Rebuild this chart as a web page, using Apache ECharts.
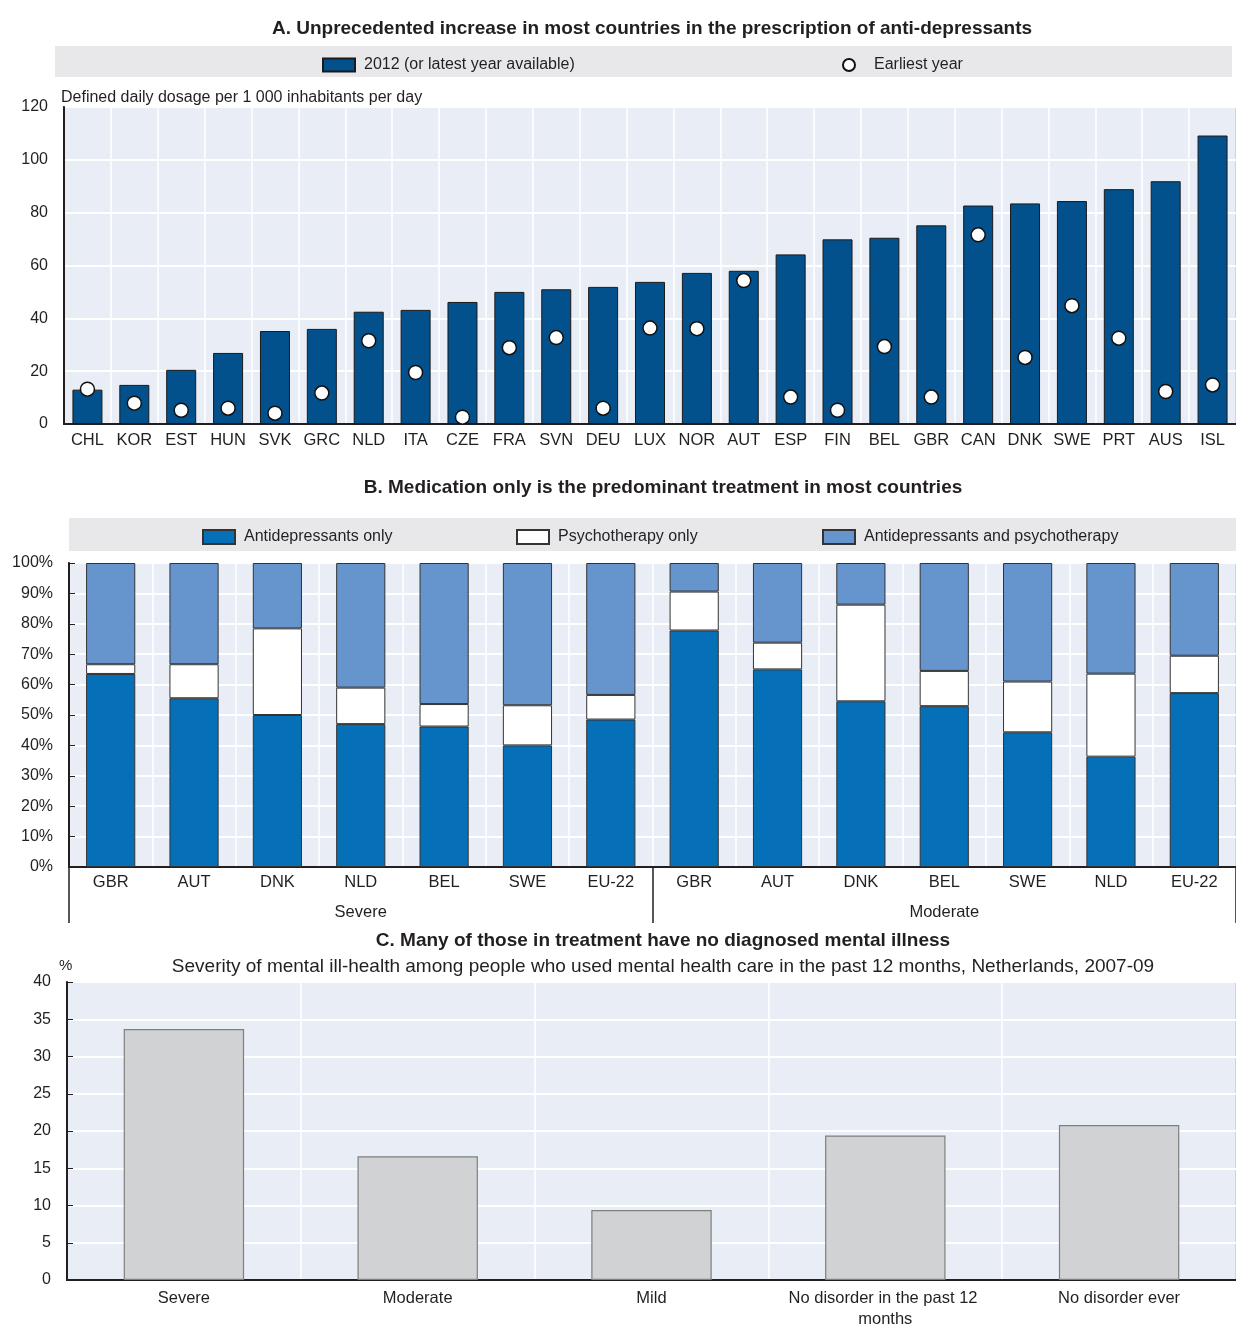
<!DOCTYPE html>
<html>
<head>
<meta charset="utf-8">
<script src="https://cdn.jsdelivr.net/npm/echarts@6/dist/echarts.min.js"></script>
<style>
  html, body { margin: 0; padding: 0; background: #fff; }
  #c { width: 1236px; height: 1330px; }
</style>
</head>
<body>
<div id="c"></div>
<script>
// Panel A: anti-depressant consumption
var countriesA = ['CHL','KOR','EST','HUN','SVK','GRC','NLD','ITA','CZE','FRA','SVN','DEU','LUX','NOR','AUT','ESP','FIN','BEL','GBR','CAN','DNK','SWE','PRT','AUS','ISL'];
var latestA = [13.0, 14.8, 20.5, 26.9, 35.2, 36.0, 42.5, 43.2, 46.2, 50.0, 51.0, 51.9, 53.8, 57.2, 58.0, 64.2, 69.9, 70.5, 75.2, 82.7, 83.5, 84.4, 88.9, 91.9, 109.2];
var earliestA = [13.2, 7.9, 5.2, 6.0, 4.1, 11.7, 31.5, 19.5, 2.6, 28.9, 32.7, 6.0, 36.3, 36.1, 54.3, 10.2, 5.2, 29.3, 10.2, 71.6, 25.2, 44.8, 32.5, 12.3, 14.8];

// Panel B: treatment type by severity
var countriesB = ['GBR','AUT','DNK','NLD','BEL','SWE','EU-22','GBR','AUT','DNK','BEL','SWE','NLD','EU-22'];
var groupsB = ['Severe', 'Moderate'];
var antidepOnly = [63.5, 55.5, 50.0, 47.0, 46.2, 40.0, 48.5, 77.8, 65.0, 54.5, 52.9, 44.3, 36.3, 57.2];
var psychOnly = [3.2, 11.2, 28.5, 12.0, 7.4, 13.2, 8.1, 12.8, 8.8, 31.8, 11.6, 16.7, 27.3, 12.3];
var bothTreat = [33.3, 33.3, 21.5, 41.0, 46.4, 46.8, 43.4, 9.4, 26.2, 13.7, 35.5, 39.0, 36.4, 30.5];

// Panel C: severity among care users, Netherlands
var severityC = ['Severe', 'Moderate', 'Mild', 'No disorder in the past 12 months', 'No disorder ever'];
var shareC = [33.7, 16.6, 9.4, 19.4, 20.8];

var FONT = '"Liberation Sans Narrow", "Arial Narrow", "Liberation Sans", sans-serif';
var TXT = '#231f20';
var PLOT_BG = '#e9edf6';

var chart = echarts.init(document.getElementById('c'));

function plotGrid(left, top, width, height) {
    return {
        left: left, top: top, width: width, height: height,
        show: true, backgroundColor: PLOT_BG,
        borderColor: '#231f20', borderWidth: 1.5
    };
}
function catAxis(grid, data, margin) {
    return {
        type: 'category', gridIndex: grid, data: data,
        axisLine: { lineStyle: { color: '#231f20', width: 2 } },
        axisTick: { show: false },
        axisLabel: { color: TXT, fontFamily: FONT, fontSize: 16.5, margin: margin, interval: 0 },
        splitLine: { show: true, interval: 0, lineStyle: { color: '#ffffff', width: 1.5 } }
    };
}
function valAxis(grid, max, step, fmt, ticks) {
    return {
        type: 'value', gridIndex: grid, min: 0, max: max, interval: step,
        axisLine: { show: true, lineStyle: { color: '#231f20', width: 2 } },
        axisTick: { show: ticks, inside: true, length: 6, lineStyle: { color: '#231f20' } },
        axisLabel: { color: TXT, fontFamily: FONT, fontSize: 16, margin: 16, formatter: fmt },
        splitLine: { show: true, lineStyle: { color: '#ffffff', width: 2 } }
    };
}
function legendText() {
    return { color: TXT, fontFamily: FONT, fontSize: 16, padding: [0, 0, 0, 4] };
}

var option = {
    animation: false,
    backgroundColor: '#ffffff',
    title: [
        { text: 'A. Unprecedented increase in most countries in the prescription of anti-depressants',
          left: 647, textAlign: 'center', top: 14,
          textStyle: { fontFamily: FONT, fontSize: 19, fontWeight: 'bold', color: TXT } },
        { text: 'Defined daily dosage per 1 000 inhabitants per day', left: 56, top: 85,
          textStyle: { fontFamily: FONT, fontSize: 16, fontWeight: 'normal', color: TXT } },
        { text: 'B. Medication only is the predominant treatment in most countries',
          left: 658, textAlign: 'center', top: 473,
          textStyle: { fontFamily: FONT, fontSize: 19, fontWeight: 'bold', color: TXT } },
        { text: 'C. Many of those in treatment have no diagnosed mental illness',
          left: 658, textAlign: 'center', top: 926,
          textStyle: { fontFamily: FONT, fontSize: 19, fontWeight: 'bold', color: TXT } },
        { text: 'Severity of mental ill-health among people who used mental health care in the past 12 months, Netherlands, 2007-09',
          left: 658, textAlign: 'center', top: 952,
          textStyle: { fontFamily: FONT, fontSize: 19, fontWeight: 'normal', color: TXT } },
        { text: '%', left: 54, top: 953,
          textStyle: { fontFamily: FONT, fontSize: 15, fontWeight: 'normal', color: TXT } }
    ],
    graphic: [
        { type: 'rect', shape: { x: 55, y: 46, width: 1177, height: 31 }, style: { fill: '#e8e8ea' }, z: -1 },
        { type: 'rect', shape: { x: 69, y: 518, width: 1167, height: 33 }, style: { fill: '#e8e8ea' }, z: -1 }
    ],
    legend: [
        { left: 317, top: 52, itemWidth: 32, itemHeight: 13, selectedMode: false,
          data: [{ name: '2012 (or latest year available)', icon: 'rect' }], textStyle: legendText() },
        { left: 837, top: 52, itemWidth: 32, itemHeight: 12, selectedMode: false,
          data: [{ name: 'Earliest year', icon: 'circle' }], textStyle: legendText() },
        { left: 197, top: 524, itemWidth: 32, itemHeight: 14, selectedMode: false,
          data: [{ name: 'Antidepressants only', icon: 'rect' }], textStyle: legendText() },
        { left: 511, top: 524, itemWidth: 32, itemHeight: 14, selectedMode: false,
          data: [{ name: 'Psychotherapy only', icon: 'rect' }], textStyle: legendText() },
        { left: 817, top: 524, itemWidth: 32, itemHeight: 14, selectedMode: false,
          data: [{ name: 'Antidepressants and psychotherapy', icon: 'rect' }], textStyle: legendText() }
    ],
    grid: [
        plotGrid(64, 107, 1176, 317),
        plotGrid(69, 563, 1179, 304),
        plotGrid(67, 982, 1177, 301)
    ],
    xAxis: [
        catAxis(0, countriesA, 8),
        catAxis(1, countriesB, 7),
        {
            type: 'category', gridIndex: 1, data: groupsB, position: 'bottom',
            axisLine: { show: false },
            axisTick: { show: true, length: 56, lineStyle: { color: '#231f20', width: 1.5 } },
            axisLabel: { color: TXT, fontFamily: FONT, fontSize: 16.5, margin: 37 },
            splitLine: { show: false }
        },
        (function () {
            var ax = catAxis(2, severityC, 8);
            ax.axisLabel.width = 205;
            ax.axisLabel.overflow = 'break';
            ax.axisLabel.lineHeight = 21;
            return ax;
        })()
    ],
    yAxis: [
        valAxis(0, 120, 20, '{value}', false),
        valAxis(1, 100, 10, '{value}%', true),
        valAxis(2, 40, 5, '{value}', true)
    ],
    series: [
        { name: '2012 (or latest year available)', type: 'bar', xAxisIndex: 0, yAxisIndex: 0,
          data: latestA, barWidth: '64%',
          itemStyle: { color: '#03518c', borderColor: '#1a1a1a', borderWidth: 1 } },
        { name: 'Earliest year', type: 'scatter', xAxisIndex: 0, yAxisIndex: 0,
          data: earliestA, symbol: 'circle', symbolSize: 14, z: 3,
          itemStyle: { color: '#ffffff', borderColor: '#111111', borderWidth: 1.5, opacity: 1 } },
        { name: 'Antidepressants only', type: 'bar', stack: 'b', xAxisIndex: 1, yAxisIndex: 1,
          data: antidepOnly, barWidth: '59%',
          itemStyle: { color: '#0570b8', borderColor: '#333333', borderWidth: 1 } },
        { name: 'Psychotherapy only', type: 'bar', stack: 'b', xAxisIndex: 1, yAxisIndex: 1,
          data: psychOnly, barWidth: '59%',
          itemStyle: { color: '#ffffff', borderColor: '#333333', borderWidth: 1 } },
        { name: 'Antidepressants and psychotherapy', type: 'bar', stack: 'b', xAxisIndex: 1, yAxisIndex: 1,
          data: bothTreat, barWidth: '59%',
          itemStyle: { color: '#6694cd', borderColor: '#333333', borderWidth: 1 } },
        { name: 'Share', type: 'bar', xAxisIndex: 3, yAxisIndex: 2,
          data: shareC, barWidth: '51.5%',
          itemStyle: { color: '#d1d2d4', borderColor: '#7f7f7f', borderWidth: 1.2 } }
    ]
};
chart.setOption(option);
</script>
</body>
</html>
